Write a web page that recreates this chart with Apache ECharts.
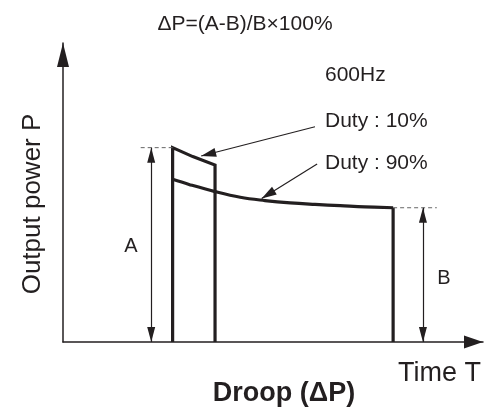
<!DOCTYPE html>
<html>
<head>
<meta charset="utf-8">
<script src="https://cdn.jsdelivr.net/npm/echarts@6/dist/echarts.min.js"></script>
<style>html,body{margin:0;padding:0;background:#fff}#c{width:484px;height:409px}</style>
</head>
<body>
<div id="c"></div>
<script>
// ---- data (arbitrary time / power units) ----
var duty10Time  = [26.1, 30.9, 36.2];
var duty10Power = [65.0, 62.0, 59.2];
var duty90Time  = [26.1, 30.0, 36.2, 42.2, 48.1, 54.1, 60.0, 66.0, 71.9, 78.6];
var duty90Power = [54.4, 52.7, 50.3, 48.4, 47.3, 46.5, 46.0, 45.6, 45.2, 44.9];
var markerA = {time: 21.0, dashFrom: 18.5};
var markerB = {time: 85.7, dashTo: 89.0};
var callout10 = {from: [60.0, 72.0], to: [32.9, 62.2]};
var callout90 = {from: [60.5, 59.5], to: [47.3, 48.0]};
var labels = {
  formula: 'ΔP=(A-B)/B×100%',
  freq: '600Hz',
  duty10: 'Duty : 10%',
  duty90: 'Duty : 90%',
  yName: 'Output power P',
  xName: 'Time T',
  title: 'Droop (ΔP)'
};

function zip(ts, ps) {
  var d = [];
  for (var i = 0; i < ts.length; i++) d.push([ts[i], ps[i]]);
  return d;
}
var A = duty10Power[0];
var B = duty90Power[duty90Power.length - 1];
var t0 = duty10Time[0];
var t10End = duty10Time[duty10Time.length - 1];
var p10End = duty10Power[duty10Power.length - 1];
var tEnd = duty90Time[duty90Time.length - 1];

var FONT = '"Liberation Sans", Arial, Helvetica, sans-serif';
var INK = '#231f20';

function plainLine(name, data, width, extra) {
  var s = {type: 'line', name: name, data: data, symbol: 'none', showSymbol: false, silent: true,
    lineStyle: {color: INK, width: width, join: 'miter', cap: 'butt'}};
  if (extra) for (var k in extra) s[k] = extra[k];
  return s;
}
function headEnd(coord, w, h) {
  return {coord: coord, symbol: 'triangle', symbolSize: [w, h], symbolOffset: [0, h / 2]};
}

var chart = echarts.init(document.getElementById('c'), null, {renderer: 'canvas'});
chart.setOption({
  animation: false,
  backgroundColor: '#fff',
  grid: {left: 63, top: 43, width: 420, height: 299},
  xAxis: {
    type: 'value', min: 0, max: 100,
    axisLine: {show: true, onZero: false, symbol: ['none', 'triangle'], symbolSize: [13, 19],
      symbolOffset: [0, -9.5], lineStyle: {color: INK, width: 1.5}},
    axisTick: {show: false}, axisLabel: {show: false}, splitLine: {show: false}
  },
  yAxis: {
    type: 'value', min: 0, max: 100,
    axisLine: {show: true, onZero: false, symbol: ['none', 'triangle'], symbolSize: [12, 24],
      symbolOffset: [0, -12], lineStyle: {color: INK, width: 1.5}},
    axisTick: {show: false}, axisLabel: {show: false}, splitLine: {show: false}
  },
  series: [
    plainLine('Duty 10%', [[t0, 0]].concat(zip(duty10Time, duty10Power)).concat([[t10End, 0]]), 3.2),
    plainLine('Duty 90%', zip(duty90Time, duty90Power), 3.2, {smooth: 0.4}),
    plainLine('Duty 90% edge', [[tEnd, B], [tEnd, 0]], 3.2),
    {
      type: 'line', name: 'dashA', data: [[markerA.dashFrom, A], [t0, A]],
      symbol: 'none', lineStyle: {color: '#666', width: 1, type: [4, 3]}, silent: true
    },
    {
      type: 'line', name: 'dashB', data: [[tEnd, B], [markerB.dashTo, B]],
      symbol: 'none', lineStyle: {color: '#666', width: 1, type: [4, 3]}, silent: true
    },
    {
      type: 'line', name: 'annot', data: [], silent: true,
      markLine: {
        silent: true, animation: false,
        label: {show: false},
        emphasis: {disabled: true},
        data: [
          [headEnd([markerA.time, 0], 8, 15), headEnd([markerA.time, A], 8, 15)],
          [headEnd([markerB.time, 0], 8, 15), headEnd([markerB.time, B], 8, 15)],
          [{coord: callout10.from, symbol: 'none'}, headEnd(callout10.to, 9, 15)],
          [{coord: callout90.from, symbol: 'none'}, headEnd(callout90.to, 9, 15)]
        ],
        lineStyle: {color: INK, width: 1.2, type: 'solid'}
      }
    }
  ],
  graphic: [
    {type: 'text', style: {text: labels.formula, x: 245, y: 24, align: 'center', verticalAlign: 'middle', font: '21px ' + FONT, fill: INK}, silent: true},
    {type: 'text', style: {text: labels.freq, x: 325, y: 75, verticalAlign: 'middle', font: '21px ' + FONT, fill: INK}, silent: true},
    {type: 'text', style: {text: labels.duty10, x: 325, y: 121, verticalAlign: 'middle', font: '21px ' + FONT, fill: INK}, silent: true},
    {type: 'text', style: {text: labels.duty90, x: 325, y: 163, verticalAlign: 'middle', font: '21px ' + FONT, fill: INK}, silent: true},
    {type: 'text', style: {text: 'A', x: 131, y: 246, align: 'center', verticalAlign: 'middle', font: '20px ' + FONT, fill: INK}, silent: true},
    {type: 'text', style: {text: 'B', x: 444, y: 278, align: 'center', verticalAlign: 'middle', font: '20px ' + FONT, fill: INK}, silent: true},
    {type: 'text', x: 33, y: 204, rotation: Math.PI / 2, style: {text: labels.yName, align: 'center', verticalAlign: 'middle', font: '26px ' + FONT, fill: INK}, silent: true},
    {type: 'text', style: {text: labels.xName, x: 398, y: 374, verticalAlign: 'middle', font: '27px ' + FONT, fill: INK}, silent: true},
    {type: 'text', style: {text: labels.title, x: 284, y: 394, align: 'center', verticalAlign: 'middle', font: 'bold 27px ' + FONT, fill: INK}, silent: true}
  ]
});
</script>
</body>
</html>
